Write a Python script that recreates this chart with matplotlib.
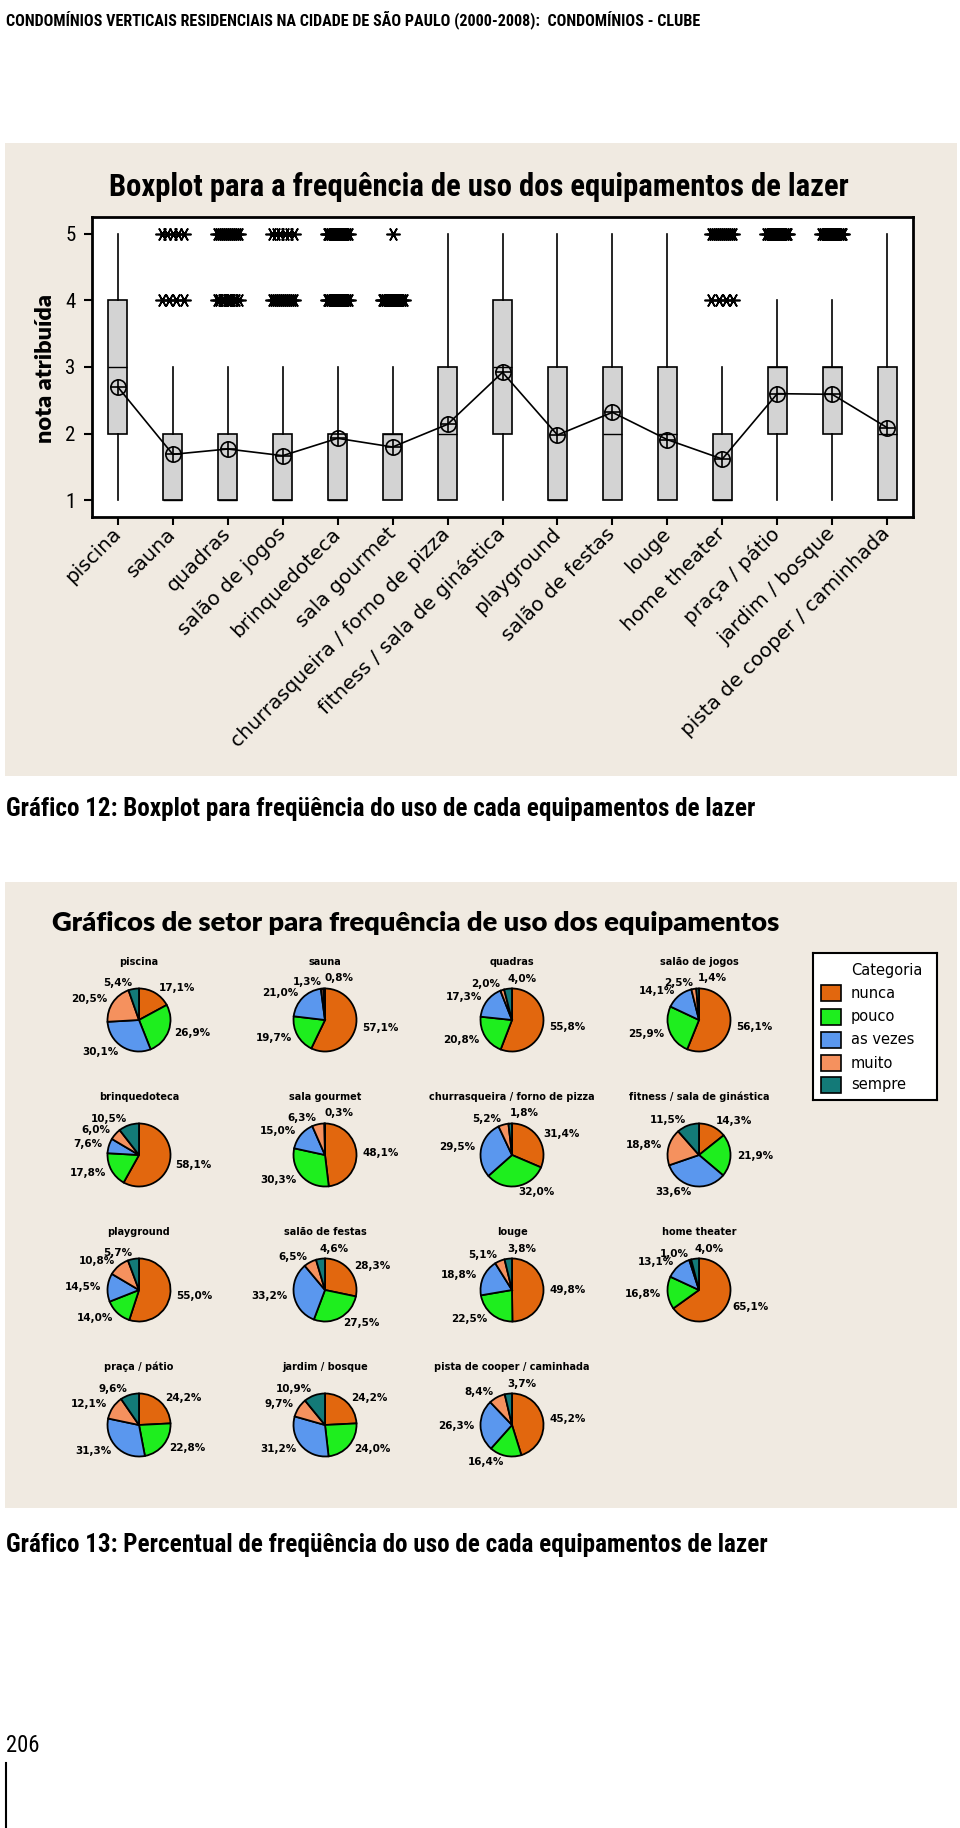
import numpy as np
import matplotlib
matplotlib.use('Agg')
import matplotlib.pyplot as plt
from matplotlib.patches import Rectangle
from matplotlib import font_manager

W, H = 960, 1828

# equipamentos (same order in the boxplot and in the pies)
equip = ['piscina', 'sauna', 'quadras', 'salão de jogos', 'brinquedoteca', 'sala gourmet',
         'churrasqueira / forno de pizza', 'fitness / sala de ginástica', 'playground',
         'salão de festas', 'louge', 'home theater', 'praça / pátio', 'jardim / bosque',
         'pista de cooper / caminhada']

# boxplot stats
q1 = [2, 1, 1, 1, 1, 1, 1, 2, 1, 1, 1, 1, 2, 2, 1]
med = [3, 1, 1, 1, 1, 2, 2, 3, 1, 2, 2, 1, 3, 3, 2]
q3 = [4, 2, 2, 2, 2, 2, 3, 4, 3, 3, 3, 2, 3, 3, 3]
whis_lo = [1, 1, 1, 1, 1, 1, 1, 1, 1, 1, 1, 1, 1, 1, 1]
whis_hi = [5, 3, 3, 3, 3, 3, 5, 5, 5, 5, 5, 3, 4, 4, 5]
means = [2.70, 1.69, 1.77, 1.67, 1.93, 1.80, 2.14, 2.92, 1.98, 2.32, 1.91, 1.62, 2.60, 2.59, 2.09]
# number of outlier asterisks drawn at nota 4 and nota 5
out4 = [0, 4, 10, 12, 14, 14, 0, 0, 0, 0, 0, 4, 0, 0, 0]
out5 = [0, 5, 12, 6, 14, 1, 0, 0, 0, 0, 0, 12, 14, 14, 0]

# pie percentages
categorias = ['nunca', 'pouco', 'as vezes', 'muito', 'sempre']
nunca = [17.1, 57.1, 55.8, 56.1, 58.1, 48.1, 31.4, 14.3, 55.0, 28.3, 49.8, 65.1, 24.2, 24.2, 45.2]
pouco = [26.9, 19.7, 20.8, 25.9, 17.8, 30.3, 32.0, 21.9, 14.0, 27.5, 22.5, 16.8, 22.8, 24.0, 16.4]
as_vezes = [30.1, 21.0, 17.3, 14.1, 7.6, 15.0, 29.5, 33.6, 14.5, 33.2, 18.8, 13.1, 31.3, 31.2, 26.3]
muito = [20.5, 1.3, 2.0, 2.5, 6.0, 6.3, 5.2, 18.8, 10.8, 6.5, 5.1, 1.0, 12.1, 9.7, 8.4]
sempre = [5.4, 0.8, 4.0, 1.4, 10.5, 0.3, 1.8, 11.5, 5.7, 4.6, 3.8, 4.0, 9.6, 10.9, 3.7]

pie_colors = ['#E2670E', '#1EEE1E', '#5A97EE', '#F5915E', '#137A78']
beige = '#F0EAE1'

avail = {f.name for f in font_manager.fontManager.ttflist}
cond = 'DejaVu Sans'
for name in ['Liberation Sans Narrow', 'Roboto Condensed', 'Roboto', 'Lato']:
    if name in avail:
        cond = name
        break
heavy = 'Lato' if 'Lato' in avail else 'DejaVu Sans'

fig = plt.figure(figsize=(W / 100, H / 100), dpi=100)
fig.patch.set_facecolor('white')
renderer = fig.canvas.get_renderer()


def px_axes(l, t, r, b):
    return fig.add_axes([l / W, 1 - b / H, (r - l) / W, (b - t) / H])


def fit_text(x, y, s, width, rotation=0, **kw):
    t = fig.text(x / W, 1 - y / H, s, fontsize=10, **kw)
    w = t.get_window_extent(renderer=renderer).width
    t.set_fontsize(10 * width / w)
    t.set_rotation(rotation)
    return t


def pct(v):
    return f'{v:.1f}'.replace('.', ',') + '%'


# background panels
for top, bot in [(143, 776), (882, 1508)]:
    fig.patches.append(Rectangle((5 / W, 1 - bot / H), 952 / W, (bot - top) / H,
                                 transform=fig.transFigure, facecolor=beige,
                                 edgecolor='none', zorder=-5))

# page texts
fit_text(6, 20, 'CONDOMÍNIOS VERTICAIS RESIDENCIAIS NA CIDADE DE SÃO PAULO (2000-2008):  CONDOMÍNIOS - CLUBE',
         694, family=cond, fontweight='bold', va='center', ha='left')
fit_text(6, 809, 'Gráfico 12: Boxplot para freqüência do uso de cada equipamentos de lazer',
         750, family=cond, fontweight='bold', va='center', ha='left')
fit_text(6, 1545, 'Gráfico 13: Percentual de freqüência do uso de cada equipamentos de lazer',
         760, family=cond, fontweight='bold', va='center', ha='left')
fit_text(6, 1746, '206', 33, family=cond, va='center', ha='left')
fig.add_artist(plt.Line2D([6 / W, 6 / W], [1 - 1763 / H, 0], transform=fig.transFigure,
                          color='black', lw=1.5))

# ---------------- boxplot ----------------
fit_text(479, 187, 'Boxplot para a frequência de uso dos equipamentos de lazer', 741,
         family=cond, fontweight='bold', va='center', ha='center')
ax = px_axes(92, 217, 913, 517)
ax.set_facecolor('white')
pos = np.arange(1, len(equip) + 1)
stats = []
for i in range(len(equip)):
    stats.append(dict(med=med[i], q1=q1[i], q3=q3[i], whislo=whis_lo[i], whishi=whis_hi[i],
                      fliers=[]))
ax.bxp(stats, positions=pos, widths=0.35, showcaps=False, showfliers=False, patch_artist=True,
       boxprops=dict(facecolor='#D3D3D3', edgecolor='black', linewidth=1.2),
       whiskerprops=dict(color='black', linewidth=1.2),
       medianprops=dict(color='black', linewidth=1.0))

for i in range(len(equip)):
    for val, n in [(4, out4[i]), (5, out5[i])]:
        if n == 0:
            continue
        off = np.linspace(-0.2, 0.2, n) if n > 1 else np.zeros(1)
        ax.plot(pos[i] + off, np.full(n, val), linestyle='none', marker=(6, 2, 90),
                markersize=10, color='black', markeredgewidth=1.2, zorder=4)

ax.plot(pos, means, color='black', lw=1.2, zorder=5)
ax.plot(pos, means, linestyle='none', marker='o', markersize=11, mfc='none', mec='black',
        mew=1.2, zorder=6)
ax.plot(pos, means, linestyle='none', marker='+', markersize=11, color='black', mew=1.2, zorder=6)

ax.set_xlim(0.53, 15.47)
ax.set_ylim(0.75, 5.25)
ax.set_yticks([1, 2, 3, 4, 5])
ax.set_xticks(pos)
for sp in ax.spines.values():
    sp.set_linewidth(2)
ax.tick_params(axis='both', direction='out', length=6, width=1.5, color='black')
ax.tick_params(axis='y', labelsize=15, pad=6)
for lab in ax.get_yticklabels():
    lab.set_family(cond)

tmp = fig.text(0, 0, equip[6], fontsize=10)
xfs = 10 * 300 / tmp.get_window_extent(renderer=renderer).width
tmp.remove()
ax.set_xticklabels(equip, rotation=45, ha='right', va='center', rotation_mode='anchor',
                   fontsize=xfs)
ax.tick_params(axis='x', pad=4)

fit_text(46, 368, 'nota atribuída', 149, rotation=90, family=heavy, fontweight='heavy',
         va='center', ha='center')

# ---------------- pies ----------------
fit_text(52, 923, 'Gráficos de setor para frequência de uso dos equipamentos', 731,
         family=heavy, fontweight='heavy', va='center', ha='left')

cx = [139, 325, 512, 699]
cy = [1020, 1155, 1290, 1425]
r = 31.5
half = 60
for i in range(len(equip)):
    row, col = divmod(i, 4)
    x0, y0 = cx[col], cy[row]
    pax = px_axes(x0 - half, y0 - half, x0 + half, y0 + half)
    vals = [nunca[i], pouco[i], as_vezes[i], muito[i], sempre[i]]
    wedges, texts = pax.pie(vals, colors=pie_colors, startangle=90, counterclock=False,
                            labels=[pct(v) for v in vals], labeldistance=1.2,
                            wedgeprops=dict(edgecolor='black', linewidth=1.3),
                            textprops=dict(fontsize=7.5, fontweight='bold'))
    if sempre[i] < 5:
        t = texts[4]
        tx, ty = t.get_position()
        t.set_position((tx, ty + 0.12))
        t.set_ha('left')
    pax.set_xlim(-half / r, half / r)
    pax.set_ylim(-half / r, half / r)
    pax.set_aspect('equal')
    pax.axis('off')
    pax.text(0, 58 / r, equip[i], ha='center', va='center', fontsize=7, fontweight='bold')

# legend box
lax = px_axes(813, 953, 937, 1100)
lax.set_xlim(813, 937)
lax.set_ylim(1100, 953)
lax.set_xticks([])
lax.set_yticks([])
lax.set_facecolor('white')
for sp in lax.spines.values():
    sp.set_linewidth(1.5)
lax.text(851, 970, 'Categoria', fontsize=10.5, va='center', ha='left')
ly = [993, 1017, 1040, 1063, 1085]
for k, name in enumerate(categorias):
    lax.add_patch(Rectangle((821, ly[k] - 8), 20, 16, facecolor=pie_colors[k],
                            edgecolor='black', linewidth=1.2))
    lax.text(851, ly[k], name, fontsize=10.5, va='center', ha='left')

fig.savefig('out.png', dpi=100)
